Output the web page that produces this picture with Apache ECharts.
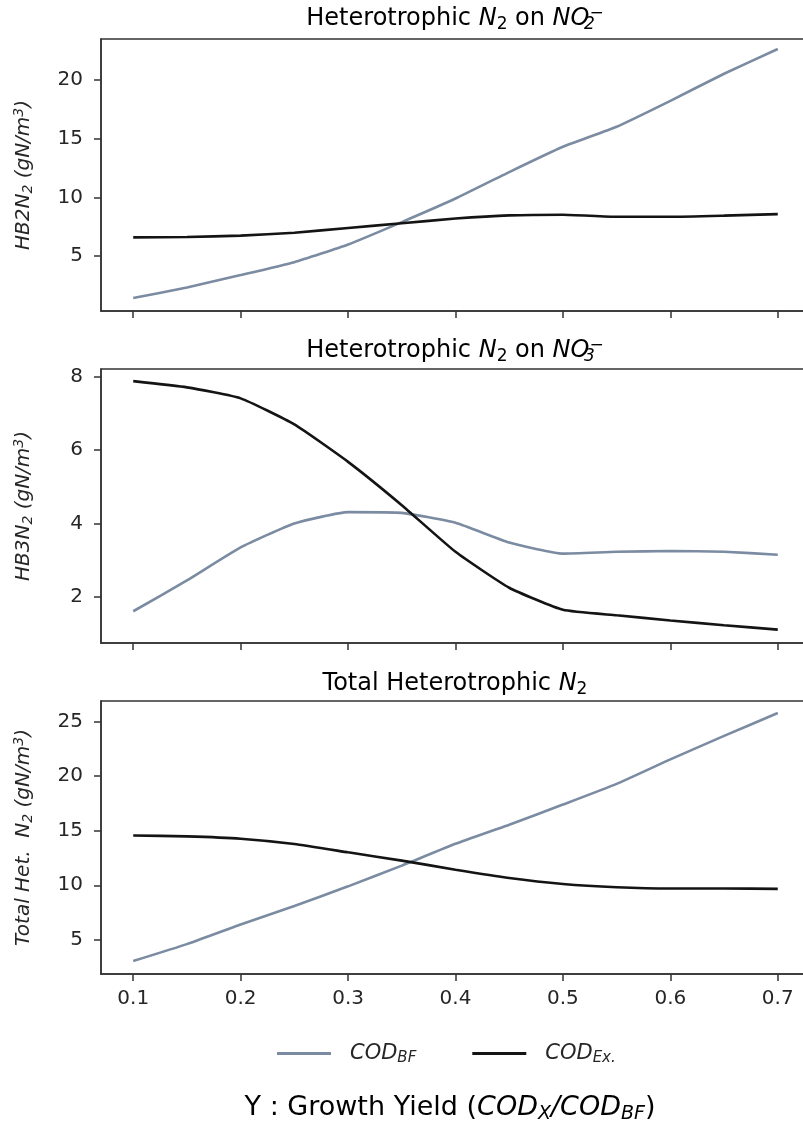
<!DOCTYPE html>
<html>
<head>
<meta charset="utf-8">
<script src="https://cdn.jsdelivr.net/npm/echarts@6/dist/echarts.min.js"></script>
<style>html,body{margin:0;padding:0;background:#fff}#c{width:803px;height:1124px}</style>
</head>
<body>
<div id="c"></div>
<script>
const xValues = [0.1, 0.15, 0.2, 0.25, 0.3, 0.35, 0.4, 0.45, 0.5, 0.55, 0.6, 0.65, 0.7];
const xTicks = [0.1, 0.2, 0.3, 0.4, 0.5, 0.6, 0.7];

const no2BF = [1.45, 2.35, 3.4, 4.5, 6.0, 7.9, 9.9, 12.15, 14.3, 16.0, 18.2, 20.5, 22.6];
const no2Ex = [6.6, 6.63, 6.75, 7.0, 7.4, 7.8, 8.2, 8.47, 8.53, 8.35, 8.35, 8.45, 8.58];
const no2Ticks = [5, 10, 15, 20];

const no3BF = [1.61, 2.45, 3.35, 4.0, 4.31, 4.29, 4.02, 3.48, 3.18, 3.23, 3.25, 3.23, 3.15];
const no3Ex = [7.88, 7.71, 7.41, 6.70, 5.68, 4.5, 3.23, 2.25, 1.65, 1.5, 1.36, 1.23, 1.11];
const no3Ticks = [2, 4, 6, 8];

const totBF = [3.05, 4.6, 6.4, 8.1, 9.9, 11.8, 13.8, 15.55, 17.4, 19.3, 21.55, 23.7, 25.8];
const totEx = [14.57, 14.48, 14.27, 13.78, 13.02, 12.26, 11.43, 10.67, 10.12, 9.82, 9.7, 9.7, 9.67];
const totTicks = [5, 10, 15, 20, 25];

const FONT = 'DejaVu Sans';
const TXT = '#262626';
const BLUE = '#7b8ba1';
const BLACK = '#141414';
const AX = '#333333';

function richSet(size) {
  const s = Math.round(size * 0.7);
  return {
    n: {fontSize: size, fontFamily: FONT, color: TXT, lineHeight: Math.round(size * 1.15)},
    it: {fontSize: size, fontFamily: FONT, fontStyle: 'italic', color: TXT, lineHeight: Math.round(size * 1.15)},
    sub: {fontSize: s, fontFamily: FONT, color: TXT, verticalAlign: 'bottom', lineHeight: s},
    isub: {fontSize: s, fontFamily: FONT, fontStyle: 'italic', color: TXT, verticalAlign: 'bottom', lineHeight: s},
    isubz: {fontSize: s, fontFamily: FONT, fontStyle: 'italic', color: TXT, verticalAlign: 'bottom', lineHeight: s, width: 0.01},
    sup: {fontSize: s, fontFamily: FONT, color: TXT, verticalAlign: 'top', lineHeight: s},
    isup: {fontSize: s, fontFamily: FONT, fontStyle: 'italic', color: TXT, verticalAlign: 'top', lineHeight: s}
  };
}

const grids = [
  {left: 101, width: 709, top: 39, height: 272},
  {left: 101, width: 709, top: 369, height: 274},
  {left: 101, width: 709, top: 701, height: 273}
];
grids.forEach(g => {
  g.show = true; g.borderColor = AX; g.borderWidth = 1.5; g.backgroundColor = 'transparent';
  g.containLabel = false; g.outerBoundsMode = 'none';
});

function xAx(i, showLabels) {
  return {
    type: 'value', gridIndex: i, min: 0.07, max: 0.73,
    axisLine: {show: true, lineStyle: {color: AX, width: 1.5}},
    axisTick: {show: true, length: 7, lineStyle: {color: AX, width: 1.5}, customValues: xTicks},
    axisLabel: {show: showLabels, customValues: xTicks, margin: 15, color: TXT, fontSize: 20, fontFamily: FONT,
      formatter: v => v.toFixed(1)},
    splitLine: {show: false}
  };
}
function yAx(i, min, max, ticks, name) {
  return {
    type: 'value', gridIndex: i, min: min, max: max,
    axisLine: {show: true, lineStyle: {color: AX, width: 1.5}},
    axisTick: {show: true, length: 7, lineStyle: {color: AX, width: 1.5}, customValues: ticks},
    axisLabel: {show: true, customValues: ticks, margin: 18, color: TXT, fontSize: 20, fontFamily: FONT},
    splitLine: {show: false},
    name: name, nameLocation: 'middle', nameRotate: 90, nameGap: 66,
    nameTextStyle: {rich: richSet(20)}
  };
}

function pts(arr) { return xValues.map((x, k) => [x, arr[k]]); }
function line(name, arr, i, color) {
  return {
    name: name, type: 'line', xAxisIndex: i, yAxisIndex: i, data: pts(arr),
    showSymbol: false, symbol: 'none', smooth: 0.15,
    lineStyle: {color: color, width: 2.6}, itemStyle: {color: color},
    emphasis: {disabled: true}, silent: true
  };
}

const option = {
  animation: false,
  backgroundColor: '#ffffff',
  grid: grids,
  xAxis: [xAx(0, false), xAx(1, false), xAx(2, true)],
  yAxis: [
    yAx(0, 0.35, 23.45, no2Ticks, '{it|HB2N}{isub|2}{it| (gN/m}{isup|3}{it|)}'),
    yAx(1, 0.745, 8.21, no3Ticks, '{it|HB3N}{isub|2}{it| (gN/m}{isup|3}{it|)}'),
    yAx(2, 1.86, 26.9, totTicks, '{it|Total Het.  N}{isub|2}{it| (gN/m}{isup|3}{it|)}')
  ],
  legend: {
    left: 272, top: 1038, itemWidth: 54, itemHeight: 3, itemGap: 56, icon: 'rect',
    data: ['COD_BF', 'COD_Ex.'],
    formatter: n => n === 'COD_BF' ? '{it|COD}{isub|BF}' : '{it|COD}{isub|Ex.}',
    textStyle: {padding: [0, 0, 0, 14], rich: richSet(21)}
  },
  series: [
    line('COD_BF', no2BF, 0, BLUE), line('COD_Ex.', no2Ex, 0, BLACK),
    line('COD_BF', no3BF, 1, BLUE), line('COD_Ex.', no3Ex, 1, BLACK),
    line('COD_BF', totBF, 2, BLUE), line('COD_Ex.', totEx, 2, BLACK)
  ],
  graphic: [
    {type: 'text', x: 455, y: 19, silent: true, style: {text: '{n|Heterotrophic }{it|N}{sub|2}{n| on }{it|NO}{isubz|2}{sup|−}', rich: richSet(24), align: 'center', verticalAlign: 'middle'}},
    {type: 'text', x: 455, y: 351, silent: true, style: {text: '{n|Heterotrophic }{it|N}{sub|2}{n| on }{it|NO}{isubz|3}{sup|−}', rich: richSet(24), align: 'center', verticalAlign: 'middle'}},
    {type: 'text', x: 455, y: 684, silent: true, style: {text: '{n|Total Heterotrophic }{it|N}{sub|2}', rich: richSet(24), align: 'center', verticalAlign: 'middle'}},
    {type: 'text', x: 450, y: 1108, silent: true, style: {text: '{n|Y : Growth Yield (}{it|COD}{isub|X}{it|/COD}{isub|BF}{n|)}', rich: richSet(27), align: 'center', verticalAlign: 'middle'}}
  ]
};

const chart = echarts.init(document.getElementById('c'), null, {renderer: 'canvas'});
chart.setOption(option);
</script>
</body>
</html>
